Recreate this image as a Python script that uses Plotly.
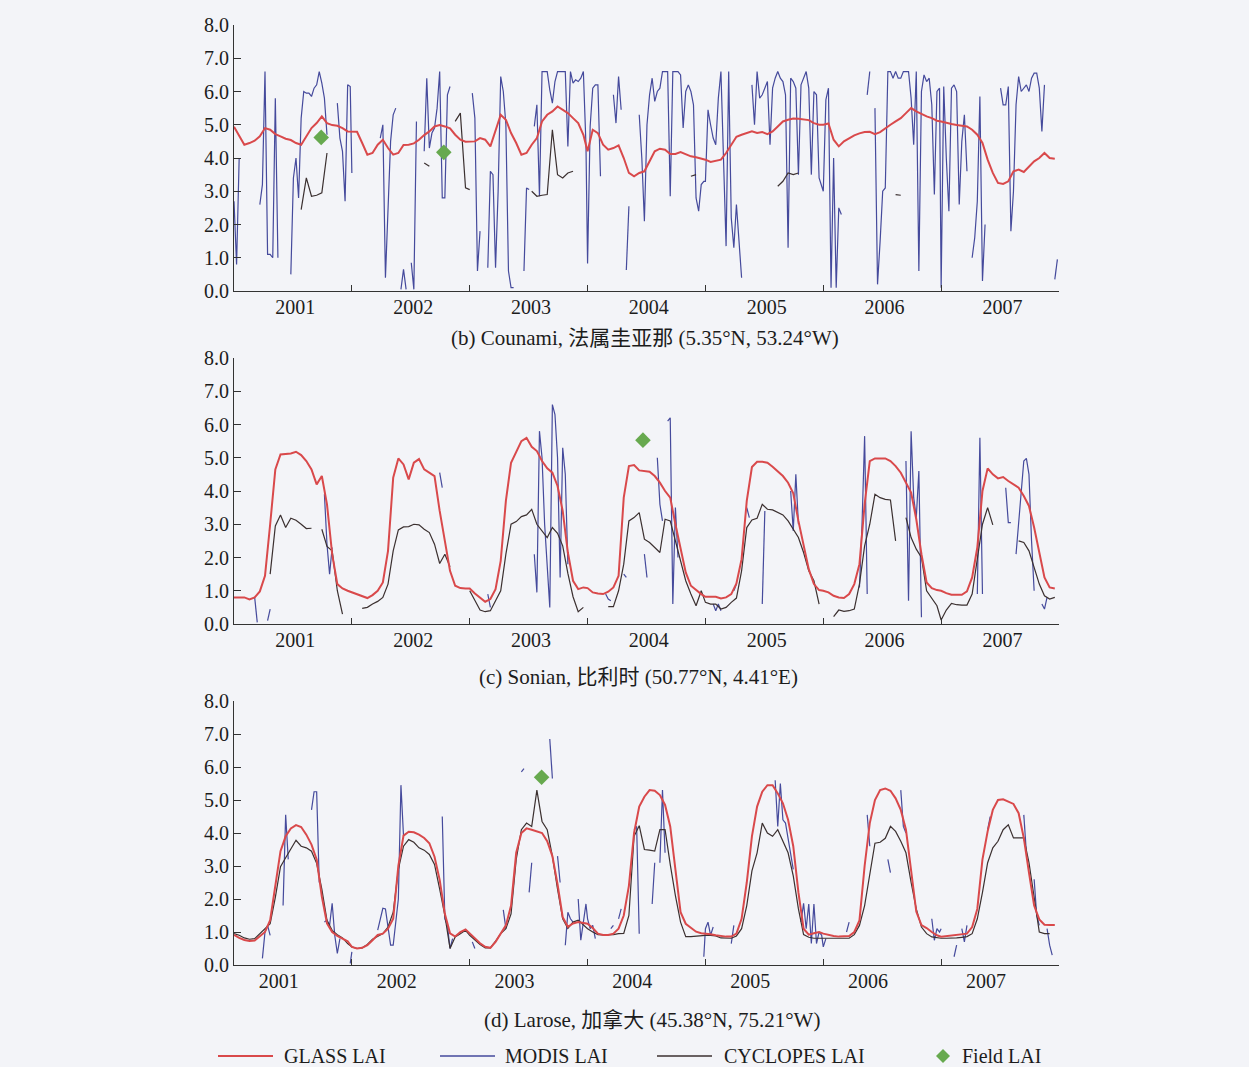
import plotly.graph_objects as go

N = None
YEARS = list(range(2001, 2008))
YEAR_LABELS = [str(y) for y in YEARS]
Y_TICKS = [0, 1, 2, 3, 4, 5, 6, 7, 8]

# ---------------- (b) Counami ----------------
# GLASS LAI, 16-day composites (23 per year)
glass_b = [
    4.94, 4.65, 4.40, 4.45, 4.52, 4.65, 4.90, 4.85, 4.72, 4.65, 4.58, 4.54, 4.45, 4.40, 4.65, 4.90, 5.05, 5.25, 5.05, 4.99, 4.97, 4.90, 4.80,
    4.79, 4.79, 4.45, 4.10, 4.15, 4.40, 4.55, 4.30, 4.10, 4.15, 4.39, 4.40, 4.44, 4.55, 4.69, 4.80, 4.95, 4.99, 4.95, 4.89, 4.70, 4.55, 4.49,
    4.49, 4.50, 4.60, 4.55, 4.35, 4.80, 5.30, 5.15, 4.75, 4.45, 4.10, 4.15, 4.40, 4.60, 5.10, 5.30, 5.40, 5.55, 5.45, 5.35, 5.20, 5.05, 4.70,
    4.20, 4.85, 4.75, 4.40, 4.25, 4.30, 4.38, 4.00, 3.55, 3.45, 3.55, 3.60, 3.90, 4.20, 4.28, 4.25, 4.12, 4.12, 4.18, 4.12, 4.05, 4.02, 3.98,
    3.95, 3.88, 3.92, 3.95, 4.15, 4.40, 4.64, 4.70, 4.74, 4.80, 4.75, 4.78, 4.72, 4.80, 4.95, 5.10, 5.15, 5.19, 5.18, 5.15, 5.14, 5.05, 5.00,
    5.00, 5.04, 4.55, 4.35, 4.50, 4.60, 4.68, 4.74, 4.78, 4.79, 4.72, 4.78, 4.90, 5.00, 5.10, 5.20, 5.35, 5.50, 5.40, 5.32, 5.25, 5.20, 5.12,
    5.10, 5.05, 5.02, 4.99, 4.98, 4.95, 4.85, 4.70, 4.45, 3.95, 3.55, 3.25, 3.22, 3.30, 3.60, 3.65, 3.58, 3.75, 3.90, 4.00, 4.15, 4.00, 3.98,
]
# MODIS LAI, 8-day composites (46 per year), None = no retrieval
modis_b = [
    2.7, 0.8, 4.0, N, N, N, N, N, N, N, 2.6, 3.2, 6.6, 1.1, 1.1, 1.0, 5.8, 1.0, N, N, N, N, 0.5, 3.4, 4.0, 2.8, 5.2, 6.0, 5.95, 5.95, 5.85, 6.1, 6.2, 6.6, 6.25, 5.8, 4.7, N, N, N, 5.65, 4.6, 4.2, 2.7, 6.2, 6.15,
    3.55, N, N, N, N, N, N, N, N, N, N, 4.6, 5.0, 0.4, 2.5, 4.5, 5.3, 5.5, N, 0.05, 0.65, 0.05, N, 0.85, 0.05, 5.1, N, N, 4.2, 6.4, 4.3, 4.75, 4.9, 5.5, 6.6, 2.8, 2.8, 5.9, 6.15, N, N, N, N, N, N, N,
    N, 5.95, 5.2, 0.6, 1.8, N, N, 0.7, 3.6, 3.5, 0.7, 3.0, 6.45, 6.0, 5.0, 0.6, 0.1, 0.1, N, N, N, 0.6, 3.1, 3.05, N, 4.95, 5.6, 2.85, 6.6, 6.6, 6.6, 6.05, 5.65, 6.3, 6.6, 6.6, 6.6, 6.6, 4.35, 6.6, 6.25, 6.35, 6.3, 6.4, 6.6, 4.4,
    0.83, 4.95, 6.1, 6.2, 6.2, 3.45, N, N, N, N, 5.9, 5.05, 6.45, 5.45, N, 0.63, 2.55, N, N, N, 5.3, 4.0, 2.1, 5.0, 5.9, 6.4, 5.7, 6.0, 6.1, 6.6, 6.6, 6.6, 2.85, 6.6, 6.6, 6.6, 6.5, 4.9, 6.0, 6.2, 6.0, 5.6, 2.8, 2.4, 3.2, 3.3,
    3.3, 5.45, 5.0, 4.6, 4.4, 5.8, 6.6, 4.0, 1.35, 6.6, 2.2, 1.3, 2.6, 1.5, 0.4, N, N, N, 6.2, 5.0, 6.6, 5.8, 5.9, 6.1, 6.3, 4.4, 6.1, 6.4, 6.6, 6.4, 6.3, 5.9, 1.3, 6.4, 6.3, 6.1, 3.5, 6.2, 6.4, 6.6, 6.1, 3.5, 6.0, 5.9, 3.4, 3.1,
    3.0, 5.75, 6.1, 0.1, 4.0, 0.1, 2.5, 2.3, N, N, N, N, N, N, N, N, N, 5.9, 6.6, N, 5.5, 0.2, 1.5, 3.0, 3.1, 6.6, 6.6, 6.4, 6.6, 6.4, 6.4, 6.6, 6.6, 6.6, 5.8, 4.4, 6.6, 0.6, 6.0, 6.5, 6.3, 6.4, 5.6, 2.9, 6.0, 6.1,
    0.1, 6.15, 4.0, 2.4, 6.1, 6.2, 6.0, 2.6, 4.5, 5.3, 3.6, N, 1.0, 1.6, 2.7, 5.85, 0.3, 2.0, N, N, N, N, N, 6.1, 5.6, 5.6, 6.15, 1.8, 3.0, 5.6, 6.45, 6.0, 6.1, 6.2, 6.0, 6.4, 6.55, 6.55, 6.1, 4.8, 6.2, N, N, N, 0.35, 0.95,
]
# CYCLOPES LAI: only a few valid 16-day composites (slot index, value)
cyc_b_slot = [13, 14, 15, 16, 17, 18, 37, 38, 43, 44, 45, 46, 58, 59, 60, 61, 62, 63, 64, 65, 66, 89, 90, 106, 107, 108, 109, 110, 129, 130]
cyc_b_val = [2.45, 3.4, 2.85, 2.88, 2.95, 4.15, 3.85, 3.75, 5.1, 5.35, 3.1, 3.05, 3.0, 2.85, 2.88, 2.9, 4.85, 3.5, 3.4, 3.55, 3.6, 3.45, 3.5, 3.15, 3.3, 3.55, 3.5, 3.55, 2.9, 2.88]
field_b_t = [2001.74, 2002.78]
field_b_v = [4.62, 4.17]

# ---------------- (c) Sonian ----------------
glass_c = [
    0.80, 0.80, 0.80, 0.74, 0.80, 0.98, 1.45, 3.00, 4.65, 5.10, 5.12, 5.13, 5.18, 5.08, 4.90, 4.65, 4.20, 4.45, 3.60, 2.10, 1.20, 1.07, 1.00,
    0.95, 0.90, 0.83, 0.78, 0.87, 1.00, 1.25, 2.20, 4.40, 4.98, 4.80, 4.35, 4.85, 4.96, 4.65, 4.55, 4.45, 3.40, 2.55, 1.60, 1.15, 1.08, 1.07,
    1.07, 0.92, 0.80, 0.67, 0.75, 1.05, 1.90, 3.70, 4.85, 5.20, 5.50, 5.60, 5.33, 5.20, 4.90, 4.68, 4.55, 4.15, 3.40, 2.15, 1.30, 1.05, 1.10,
    1.08, 0.95, 0.92, 0.90, 0.97, 1.10, 1.45, 3.80, 4.75, 4.78, 4.62, 4.60, 4.58, 4.45, 4.25, 4.00, 3.80, 3.00, 2.25, 1.55, 1.15, 1.02, 0.90,
    0.82, 0.82, 0.82, 0.77, 0.80, 0.90, 1.22, 1.95, 3.70, 4.72, 4.88, 4.88, 4.85, 4.73, 4.60, 4.45, 4.25, 3.93, 3.10, 2.40, 1.65, 1.20, 1.02,
    1.00, 0.95, 0.85, 0.80, 0.78, 0.90, 1.20, 1.80, 3.60, 4.90, 4.98, 4.98, 4.98, 4.90, 4.75, 4.55, 4.25, 3.95, 3.15, 2.10, 1.25, 1.08, 1.02,
    1.00, 0.93, 0.88, 0.88, 0.88, 0.98, 1.40, 2.30, 4.00, 4.68, 4.50, 4.38, 4.42, 4.30, 4.20, 4.10, 3.85, 3.55, 2.90, 2.10, 1.40, 1.10, 1.07,
]
cyc_c = [
    N, N, N, N, N, N, N, 1.5, 2.95, 3.28, 2.90, 3.18, 3.12, 3.0, 2.87, 2.88, N, 2.85, 2.33, 2.2, 1.0, 0.3, N,
    N, N, 0.47, 0.50, 0.60, 0.68, 0.80, 1.2, 2.2, 2.83, 2.92, 2.93, 3.0, 2.98, 2.85, 2.75, 2.4, 1.82, 2.1, 1.72, N, N, N,
    1.0, 0.7, 0.42, 0.37, 0.40, 0.7, 1.0, 2.1, 3.0, 3.08, 3.23, 3.28, 3.45, 3.0, 2.8, 2.6, 2.9, 2.73, 2.35, 1.52, 0.82, 0.37, 0.5,
    N, N, N, N, 0.52, 0.52, 1.0, 1.8, 3.1, 3.2, 3.35, 2.55, 2.45, 2.3, 2.15, 3.15, 3.1, 2.5, 1.9, 1.3, 0.9, 0.55, 1.0,
    0.65, 0.6, 0.6, 0.45, 0.5, 0.65, 0.78, 1.6, 2.9, 3.13, 3.18, 3.6, 3.45, 3.43, 3.35, 3.28, 3.1, 2.85, 2.6, 2.15, 1.6, 1.3, 0.6,
    N, N, 0.22, 0.42, 0.38, 0.40, 0.45, 1.2, 2.35, 3.0, 3.9, 3.8, 3.75, 3.73, 2.5, N, 3.2, 2.6, 2.25, 2.0, 1.0, 0.78, 0.55,
    0.12, 0.42, 0.62, 0.58, 0.57, 0.57, 0.9, 2.0, 3.0, 3.5, 2.98, N, N, N, N, 2.5, 2.45, 2.2, 1.7, 1.2, 0.85, 0.75, 0.80,
]
modis_c_slot = [8, 9, 13, 14, 35, 36, 37, 38, 80, 81, 99, 100, 117, 118, 119, 120, 121, 122, 123, 124, 125, 126, 127, 128, 129, 130,
                145, 146, 147, 152, 153, 160, 161, 165, 166, 167, 169, 170, 171, 172, 173, 187, 188, 189, 190, 195, 196, 200, 201,
                206, 207, 217, 218, 219, 220, 244, 245, 246, 247, 262, 263, 264, 265, 266, 267, 268, 290, 291, 292, 301, 302, 303,
                305, 306, 307, 308, 309, 310, 311, 312, 315, 316, 317]
modis_c_val = [0.8, 0.05, 0.1, 0.45, 3.9, 2.4, 1.5, 2.3, 4.55, 4.1, 0.9, 0.5, 2.1, 0.95, 5.8, 5.0, 3.0, 1.8, 0.5, 6.6, 6.3, 5.0, 1.4, 5.3, 4.5, 1.8,
               0.9, 0.75, 0.7, 1.5, 1.4, 2.1, 1.4, 5.0, 3.6, 3.1, 6.1, 6.2, 0.6, 3.5, 2.0, 0.6, 0.4, 0.6, 0.4, 1.0, 1.2, 3.5, 3.2,
               0.6, 3.4, 4.0, 2.8, 4.5, 3.0, 1.1, 3.0, 5.65, 0.9, 4.9, 0.7, 5.8, 3.8, 3.2, 4.6, 0.2, 0.9, 5.6, 0.9, 4.1, 3.05, 3.05,
               2.1, 3.0, 4.0, 4.9, 4.98, 4.5, 2.5, 1.0, 0.6, 0.45, 0.8]
field_c_t = [2004.47]
field_c_v = [5.53]

# ---------------- (d) Larose ----------------
glass_d = [
    0.91, 0.82, 0.76, 0.73, 0.74, 0.88, 1.00, 1.36, 2.45, 3.45, 3.90, 4.14, 4.24, 4.18, 3.95, 3.65, 3.20, 2.07, 1.26, 1.00, 0.88, 0.80, 0.72,
    0.55, 0.50, 0.52, 0.60, 0.75, 0.91, 0.95, 1.10, 1.40, 3.00, 3.92, 4.04, 4.02, 3.95, 3.85, 3.69, 3.28, 2.58, 1.55, 0.96, 0.86, 1.00, 1.08,
    0.95, 0.80, 0.66, 0.55, 0.52, 0.70, 0.96, 1.20, 1.80, 3.40, 4.00, 4.14, 4.10, 4.04, 4.00, 3.75, 3.30, 2.45, 1.45, 1.16, 1.26, 1.30, 1.28,
    1.25, 1.12, 0.95, 0.91, 0.91, 0.95, 1.10, 1.50, 2.40, 4.00, 4.80, 5.10, 5.30, 5.28, 5.15, 4.85, 4.20, 2.90, 1.60, 1.25, 1.12, 1.01, 0.96,
    0.95, 0.93, 0.90, 0.87, 0.86, 0.86, 0.95, 1.40, 2.50, 3.90, 4.80, 5.25, 5.45, 5.45, 5.20, 4.90, 4.40, 3.60, 2.20, 1.10, 0.92, 0.96, 1.00,
    0.95, 0.91, 0.88, 0.86, 0.87, 0.88, 1.00, 1.35, 3.00, 4.30, 5.00, 5.30, 5.35, 5.28, 5.05, 4.70, 4.10, 2.80, 1.62, 1.21, 1.12, 1.00, 0.90,
    0.86, 0.88, 0.90, 0.90, 0.92, 0.95, 1.15, 1.70, 3.20, 4.05, 4.70, 5.00, 5.02, 4.95, 4.88, 4.60, 3.85, 2.80, 1.80, 1.38, 1.22, 1.21, 1.21,
]
cyc_d = [
    0.95, 0.90, 0.82, 0.78, 0.80, 0.95, 1.11, 1.25, 2.05, 2.98, 3.25, 3.50, 3.78, 3.60, 3.55, 3.45, 3.08, 2.30, 1.35, 1.05, 0.92, 0.82, 0.65,
    0.55, 0.50, 0.52, 0.62, 0.78, 0.86, 0.95, 1.15, 1.60, 2.90, 3.60, 3.80, 3.72, 3.55, 3.48, 3.35, 3.05, 2.30, 1.50, 0.50, 0.85, 0.95, 1.05,
    0.90, 0.75, 0.62, 0.52, 0.52, 0.72, 0.95, 1.10, 1.55, 3.20, 4.10, 4.30, 4.20, 5.30, 4.35, 4.10, 3.30, 2.30, 1.40, 1.11, 1.30, 1.36, 1.20,
    1.10, 1.00, 0.92, 0.91, 0.91, 0.92, 0.95, 0.96, 1.50, 3.90, 4.22, 3.50, 3.48, 3.45, 4.10, 4.10, 3.05, 2.10, 1.30, 0.86, 0.86, 0.88, 0.90,
    0.90, 0.90, 0.88, 0.82, 0.81, 0.81, 0.88, 1.10, 1.80, 2.85, 3.40, 4.30, 4.00, 3.90, 4.10, 3.75, 3.40, 2.70, 1.70, 0.92, 0.84, 0.81, 0.81,
    0.81, 0.81, 0.81, 0.81, 0.81, 0.81, 0.92, 1.20, 1.80, 2.68, 3.69, 3.72, 3.84, 4.20, 4.05, 3.75, 3.40, 2.50, 1.70, 1.15, 0.95, 0.85, 0.82,
    0.81, 0.81, 0.81, 0.82, 0.84, 0.86, 0.95, 1.40, 2.20, 3.10, 3.55, 3.75, 4.10, 4.25, 3.85, 3.85, 3.85, 3.10, 2.10, 1.00, 0.95, 0.95, N,
]
modis_d_slot = [11, 12, 13, 14, 19, 20, 21, 30, 31, 32, 33, 35, 36, 37, 38, 39, 40, 41, 45, 46,
                56, 57, 58, 59, 60, 61, 62, 63, 64, 65, 66, 81, 82, 83, 84, 85, 93, 94, 105, 106,
                112, 113, 115, 116, 123, 124, 126, 127, 129, 130, 131, 132, 134, 135, 136, 137, 138, 139, 140, 141,
                147, 148, 150, 151, 156, 157, 158, 163, 164, 166, 167, 168, 183, 184, 185, 186, 187, 194, 195,
                211, 212, 213, 214, 215, 216, 217, 218, 221, 222, 223, 224, 225, 226, 227, 228, 229, 230, 231,
                239, 240, 247, 248, 255, 256, 260, 261, 262, 272, 273, 274, 275, 276, 281, 282, 284, 285, 286,
                294, 295, 308, 309, 312, 313, 314, 317, 318, 319]
modis_d_val = [0.2, 1.0, 1.2, 0.9, 1.8, 4.55, 3.2, 4.7, 5.25, 5.25, 2.5, 1.3, 1.36, 1.2, 1.87, 0.9, 0.35, 0.8, 0.05, 0.4,
               1.06, 1.4, 1.72, 1.7, 1.2, 0.6, 0.6, 1.4, 2.0, 5.45, 3.9, 4.5, 1.4, 1.2, 0.5, 0.8, 0.7, 0.5, 1.67, 1.1,
               5.85, 5.95, 2.2, 3.1, 6.85, 5.65, 3.3, 2.5, 0.6, 1.6, 1.4, 1.3, 2.0, 0.75, 1.3, 1.85, 1.4, 1.1, 1.2, 0.8,
               1.1, 1.2, 1.4, 1.7, 4.1, 4.2, 0.95, 1.85, 3.1, 3.1, 5.3, 3.4, 0.25, 1.1, 1.3, 0.9, 1.15, 0.65, 1.2,
               5.6, 4.2, 5.5, 4.4, 4.3, 3.8, 3.3, 2.9, 1.3, 1.87, 1.1, 1.85, 0.65, 1.85, 0.65, 1.0, 0.9, 0.55, 0.8,
               1.0, 1.3, 4.55, 3.6, 3.2, 2.8, 5.3, 4.2, 4.0, 1.4, 0.75, 1.1, 1.0, 1.1, 0.25, 0.6, 1.1, 0.7, 1.2,
               4.1, 4.5, 4.55, 3.4, 2.6, 1.5, 1.2, 1.1, 0.6, 0.3]
field_d_t = [2003.61]
field_d_v = [5.69]

CAPTIONS = [
    "(b) Counami, 法属圭亚那 (5.35°N, 53.24°W)",
    "(c) Sonian, 比利时 (50.77°N, 4.41°E)",
    "(d) Larose, 加拿大 (45.38°N, 75.21°W)",
]
LEGEND_NAMES = ["GLASS LAI", "MODIS LAI", "CYCLOPES LAI", "Field LAI"]

RED = "#d9494b"
BLUE = "#454a9c"
DARK = "#3b3030"
GREEN = "#67a94f"
BG = "#f3f4f8"
AXIS = "#333333"
FONT = "Liberation Serif, Times New Roman, Noto Sans CJK SC, serif"


def composite_dates(step):
    """Decimal-year start dates of the composite periods."""
    out = []
    for y in YEARS:
        for doy in range(1, 366, step):
            out.append(y + (doy - 1) / 365.0)
    return out


def expand(slots, vals, n):
    out = [None] * n
    for s, v in zip(slots, vals):
        out[s] = v
    return out


t16 = composite_dates(16)
t8 = composite_dates(8)

panels = [
    dict(glass=glass_b, modis=modis_b, cyc=expand(cyc_b_slot, cyc_b_val, len(t16)),
         ft=field_b_t, fv=field_b_v, label_shift=0.52),
    dict(glass=glass_c, modis=expand(modis_c_slot, modis_c_val, len(t8)), cyc=cyc_c,
         ft=field_c_t, fv=field_c_v, label_shift=0.52),
    dict(glass=glass_d, modis=expand(modis_d_slot, modis_d_val, len(t8)), cyc=cyc_d,
         ft=field_d_t, fv=field_d_v, label_shift=0.38),
]

W, H = 1249, 1067
X_DOM = [234 / W, 1059 / W]
Y_DOMS = [  # pixel rows of the 0.0 and 8.0 levels of each panel
    [1 - 291 / H, 1 - 25 / H],
    [1 - 624 / H, 1 - 358 / H],
    [1 - 965 / H, 1 - 701 / H],
]
CAPTION_POS = [(645, 338), (638, 677), (652, 1020)]
TXT = 20

fig = go.Figure()
layout = dict(
    width=W, height=H,
    margin=dict(l=0, r=0, t=0, b=0, autoexpand=False),
    paper_bgcolor=BG, plot_bgcolor=BG,
    showlegend=False,
    font=dict(family=FONT, size=TXT, color="#1c1c1c"),
)

annotations = []
shapes = []

for i, p in enumerate(panels):
    sfx = "" if i == 0 else str(i + 1)
    xa, ya = "x" + sfx, "y" + sfx
    fig.add_trace(go.Scatter(x=t8, y=p["modis"], mode="lines", name=LEGEND_NAMES[1],
                             line=dict(color=BLUE, width=1.2), xaxis=xa, yaxis=ya))
    fig.add_trace(go.Scatter(x=t16, y=p["cyc"], mode="lines", name=LEGEND_NAMES[2],
                             line=dict(color=DARK, width=1.2), xaxis=xa, yaxis=ya))
    fig.add_trace(go.Scatter(x=t16, y=p["glass"], mode="lines", name=LEGEND_NAMES[0],
                             line=dict(color=RED, width=2.0), xaxis=xa, yaxis=ya))
    fig.add_trace(go.Scatter(x=p["ft"], y=p["fv"], mode="markers", name=LEGEND_NAMES[3],
                             marker=dict(symbol="diamond", size=12, color=GREEN),
                             xaxis=xa, yaxis=ya))

    layout["xaxis" + sfx] = dict(
        domain=X_DOM, range=[2001, 2008], anchor=ya, automargin=False,
        showline=True, linecolor=AXIS, linewidth=1.2, showgrid=False, zeroline=False,
        tickvals=[y + p["label_shift"] for y in YEARS], ticktext=YEAR_LABELS,
        ticks="inside", ticklen=0, tickfont=dict(size=TXT), ticklabelstandoff=-2,
        minor=dict(tickvals=YEARS[1:] + [2008], ticks="inside", ticklen=6,
                   tickcolor=AXIS, tickwidth=1.2, showgrid=False),
    )
    layout["yaxis" + sfx] = dict(
        domain=Y_DOMS[i], range=[0, 8], anchor=xa, automargin=False,
        showline=True, linecolor=AXIS, linewidth=1.2, showgrid=False, zeroline=False,
        tickvals=Y_TICKS, ticktext=[f"{v:.1f}" for v in Y_TICKS],
        ticks="inside", ticklen=7, tickcolor=AXIS, tickwidth=1.2, tickfont=dict(size=TXT),
    )
    cx, cy = CAPTION_POS[i]
    annotations.append(dict(text=CAPTIONS[i], x=cx / W, y=1 - cy / H, xref="paper", yref="paper",
                            showarrow=False, xanchor="center", yanchor="middle",
                            font=dict(size=21)))

# legend row
LEG_Y = 1 - 1056 / H
for (x0, x1, color), name, tx in zip(
        [(218, 273, RED), (440, 495, BLUE), (657, 712, DARK)],
        LEGEND_NAMES[:3], [282, 503, 722]):
    shapes.append(dict(type="line", xref="paper", yref="paper", x0=x0 / W, x1=x1 / W,
                       y0=LEG_Y, y1=LEG_Y, line=dict(color=color, width=2 if color == RED else 1.4)))
    annotations.append(dict(text=name, x=tx / W, y=LEG_Y, xref="paper", yref="paper",
                            showarrow=False, xanchor="left", yanchor="middle", font=dict(size=TXT)))
# diamond key for the field measurements
shapes.append(dict(type="path", xref="paper", yref="paper", xsizemode="pixel", ysizemode="pixel",
                   xanchor=943 / W, yanchor=LEG_Y, path="M0,7 L7,0 L0,-7 L-7,0 Z",
                   fillcolor=GREEN, line=dict(width=0)))
annotations.append(dict(text=LEGEND_NAMES[3], x=960 / W, y=LEG_Y, xref="paper", yref="paper",
                        showarrow=False, xanchor="left", yanchor="middle", font=dict(size=TXT)))

layout["annotations"] = annotations
layout["shapes"] = shapes
fig.update_layout(**layout)
fig.write_html("out.html")
